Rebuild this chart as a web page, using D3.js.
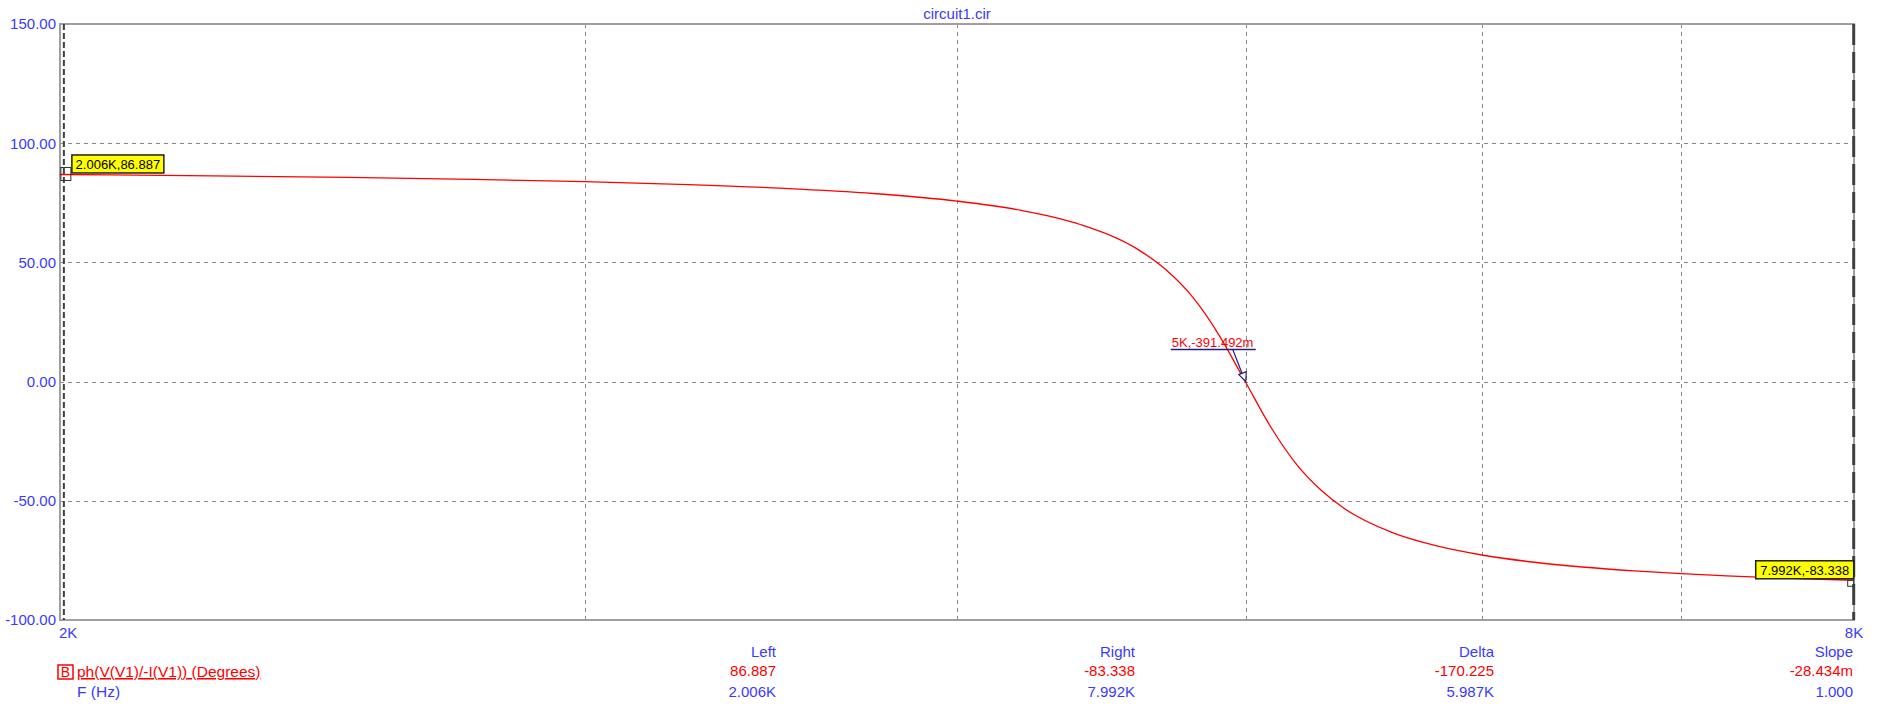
<!DOCTYPE html>
<html>
<head>
<meta charset="utf-8">
<script src="https://cdn.jsdelivr.net/npm/d3@7/dist/d3.min.js"></script>
<style>
html,body{margin:0;padding:0;background:#fff;}
svg{display:block;}
text{font-family:"Liberation Sans",Arial,sans-serif;}
</style>
</head>
<body>
<svg id="chart" width="1883" height="714"></svg>
<script>
// ---- data ----
const title = "circuit1.cir";
const freqHz = [2000,2250,2500,2750,3000,3250,3500,3750,4000,4200,4400,4600,4700,4800,4900,5000,5100,5200,5300,5400,5600,5800,6000,6250,6500,6750,7000,7250,7500,7750,8000];
const phaseDeg = [86.88,86.31,85.64,84.85,83.88,82.66,81.07,78.90,75.72,71.90,65.90,55.46,47.0,35.30,19.11,-0.39,-19.47,-34.72,-45.6,-53.57,-63.37,-69.06,-72.73,-75.78,-77.87,-79.39,-80.55,-81.46,-82.20,-82.81,-83.32];
const yTicks = [-100,-50,0,50,100,150];
const xGridTicks = [3000,4000,5000,6000,7000];
const xLabelTicks = [2000,8000];
const xLabelText = ["2K","8K"];
const leftCursor = {f:2006, v:86.887, label:"2.006K,86.887"};
const rightCursor = {f:7992, v:-83.338, label:"7.992K,-83.338"};
const tagPoint = {f:5000, v:-0.391492, label:"5K,-391.492m"};
const legendTrace = "ph(V(V1)/-I(V1)) (Degrees)";
const legendX = "F (Hz)";
const statHeaders = ["Left","Right","Delta","Slope"];
const statRowTrace = ["86.887","-83.338","-170.225","-28.434m"];
const statRowX = ["2.006K","7.992K","5.987K","1.000"];

// ---- drawing ----
const BLUE = "#3a3aff", RED = "#ff0000", GRID = "#8a8a8a";
const svg = d3.select("#chart");
const L = 60, R = 1854, T = 24, B = 620;
const x = d3.scaleLog().domain([2000,8000]).range([L,R]);
const y = d3.scaleLinear().domain([-100,150]).range([B,T]);

svg.append("rect").attr("width",1883).attr("height",714).attr("fill","#fff");

// grid
svg.append("g").selectAll("line").data(xGridTicks).join("line")
  .attr("x1",d=>Math.round(x(d))+0.5).attr("x2",d=>Math.round(x(d))+0.5).attr("y1",T).attr("y2",B)
  .attr("stroke",GRID).attr("stroke-width",1).attr("stroke-dasharray","4,4");
svg.append("g").selectAll("line").data(yTicks.filter(d=>d>-100&&d<150)).join("line")
  .attr("x1",L).attr("x2",R).attr("y1",d=>Math.round(y(d))+0.5).attr("y2",d=>Math.round(y(d))+0.5)
  .attr("stroke",GRID).attr("stroke-width",1).attr("stroke-dasharray","4,4");

// frame
svg.append("rect").attr("x",L).attr("y",T).attr("width",R-L).attr("height",B-T)
  .attr("fill","none").attr("stroke","#a0a0a0").attr("stroke-width",2);

// y axis labels
const yAxis = d3.axisLeft(y).tickValues(yTicks).tickFormat(d=>d.toFixed(2)).tickSize(0).tickPadding(4);
const gy = svg.append("g").attr("transform",`translate(${L},0)`).call(yAxis);
gy.select(".domain").remove();
gy.selectAll("text").attr("fill",BLUE).style("font-size","15px").style("font-family","'Liberation Sans',Arial,sans-serif");

// x labels
svg.append("g").selectAll("text").data(xLabelTicks).join("text")
  .attr("x",(d,i)=> i===0 ? x(d)-1 : x(d))
  .attr("y",638)
  .attr("text-anchor",(d,i)=> i===0 ? "start" : "middle")
  .attr("fill",BLUE).style("font-size","15px")
  .text((d,i)=>xLabelText[i]);

// title
svg.append("text").attr("x",(L+R)/2).attr("y",19).attr("text-anchor","middle")
  .attr("fill",BLUE).style("font-size","15px").text(title);

// curve
const pts = freqHz.map((f,i)=>[f,phaseDeg[i]]);
svg.append("path").datum(pts)
  .attr("d",d3.line().x(d=>x(d[0])).y(d=>y(d[1])).curve(d3.curveMonotoneX))
  .attr("fill","none").attr("stroke",RED).attr("stroke-width",1.3);

// cursors
svg.append("line").attr("x1",x(leftCursor.f)).attr("x2",x(leftCursor.f)).attr("y1",T).attr("y2",B)
  .attr("stroke","#404040").attr("stroke-width",2).attr("stroke-dasharray","6,3");
svg.append("line").attr("x1",x(rightCursor.f)+1).attr("x2",x(rightCursor.f)+1).attr("y1",T).attr("y2",B)
  .attr("stroke","#404040").attr("stroke-width",3).attr("stroke-dasharray","21,7");

// cursor markers
svg.append("rect").attr("x",x(leftCursor.f)-3).attr("y",y(leftCursor.v)-7).attr("width",10).attr("height",13)
  .attr("fill","none").attr("stroke","#303030").attr("stroke-width",1);
svg.append("rect").attr("x",x(rightCursor.f)-5).attr("y",y(rightCursor.v)).attr("width",6).attr("height",6)
  .attr("fill","none").attr("stroke","#303030").attr("stroke-width",1);

// cursor labels
function tagBox(px,py,w,label){
  svg.append("rect").attr("x",px).attr("y",py).attr("width",w).attr("height",18)
    .attr("fill","#ffff00").attr("stroke","#202020").attr("stroke-width",1.5);
  svg.append("text").attr("x",px+w/2).attr("y",py+14).attr("text-anchor","middle")
    .attr("fill","#000").style("font-size","13px").text(label);
}
tagBox(x(leftCursor.f)+8, y(leftCursor.v)-19.5, 92, leftCursor.label);
tagBox(x(rightCursor.f)-97, y(rightCursor.v)-19.5, 98, rightCursor.label);

// point tag annotation
const tx = x(tagPoint.f), ty = y(tagPoint.v);
svg.append("text").attr("x",tx-74).attr("y",ty-36).attr("fill",RED).style("font-size","13px").text(tagPoint.label);
svg.append("line").attr("x1",tx-75).attr("x2",tx+10).attr("y1",ty-33).attr("y2",ty-33)
  .attr("stroke","#202080").attr("stroke-width",1.5);
svg.append("line").attr("x1",tx-13).attr("y1",ty-33).attr("x2",tx-1).attr("y2",ty-2)
  .attr("stroke","#202080").attr("stroke-width",1.2);
// hollow arrowhead
const ang = Math.atan2(31,12);
const hx = tx, hy = ty-1, hl = 9, hw = 4;
const bx = hx - hl*Math.cos(ang), by = hy - hl*Math.sin(ang);
svg.append("path")
  .attr("d",`M${hx},${hy}L${bx + hw*Math.sin(ang)},${by - hw*Math.cos(ang)}L${bx - hw*Math.sin(ang)},${by + hw*Math.cos(ang)}Z`)
  .attr("fill","#fff").attr("stroke","#202080").attr("stroke-width",1.2);

// legend
svg.append("rect").attr("x",58).attr("y",665).attr("width",15).attr("height",14)
  .attr("fill","none").attr("stroke",RED).attr("stroke-width",1.5);
svg.append("text").attr("x",65.5).attr("y",677).attr("text-anchor","middle").attr("fill",RED).style("font-size","14px").text("B");
svg.append("text").attr("x",77).attr("y",677).attr("fill",RED).style("font-size","15.5px")
  .attr("text-decoration","underline").text(legendTrace);
svg.append("text").attr("x",77).attr("y",697).attr("fill",BLUE).style("font-size","15.5px").text(legendX);

// stats table
const colRight = statHeaders.map((d,i)=>1853 - (statHeaders.length-1-i)*359);
const rows = [[statHeaders,BLUE,657],[statRowTrace,RED,676],[statRowX,BLUE,697]];
rows.forEach(([vals,col,yy])=>{
  svg.append("g").selectAll("text").data(vals).join("text")
    .attr("x",(d,i)=>colRight[i]).attr("y",yy).attr("text-anchor","end")
    .attr("fill",col).style("font-size","15px").text(d=>d);
});
</script>
</body>
</html>
